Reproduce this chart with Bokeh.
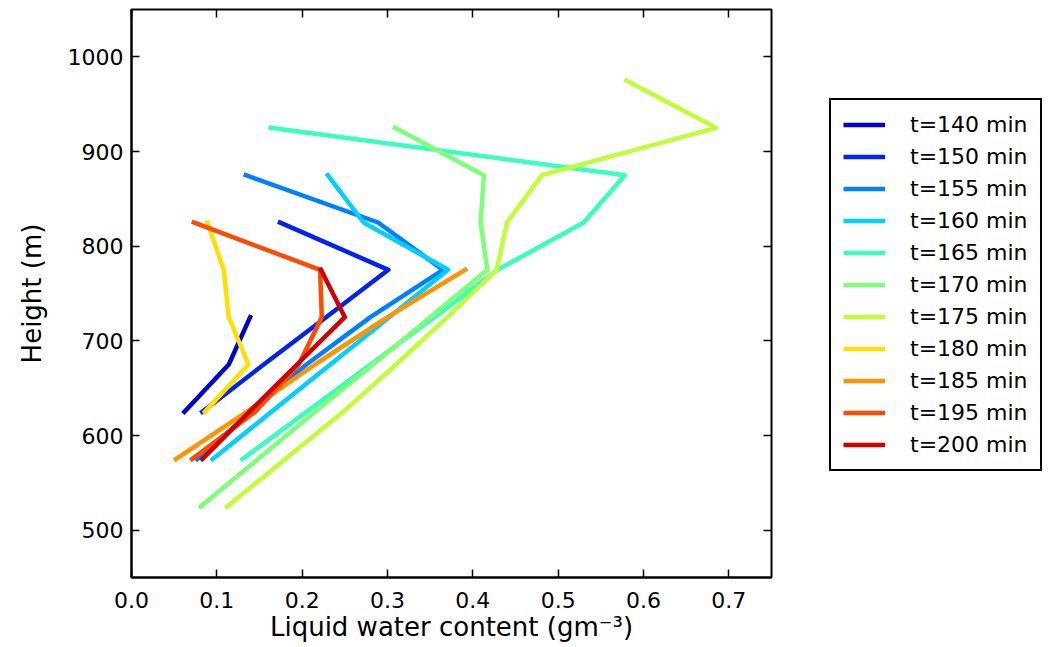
from bokeh.plotting import figure
from bokeh.layouts import row
from bokeh.models import (Legend, LegendItem, LinearAxis, FixedTicker,
                          PrintfTickFormatter, Range1d)
from bokeh.embed import file_html
from bokeh.resources import INLINE

# ---- data ----
labels = ["t=140 min", "t=150 min", "t=155 min", "t=160 min", "t=165 min",
          "t=170 min", "t=175 min", "t=180 min", "t=185 min", "t=195 min",
          "t=200 min"]
colors = ["#0000cd", "#0022f5", "#0080ff", "#00d0ff", "#3affbc",
          "#7dff7a", "#c0ff38", "#ffe000", "#ff9400", "#ff4a00",
          "#d00000"]

h_140 = [625, 675, 725]
lwc_140 = [0.062, 0.114, 0.139]

h_150 = [625, 675, 725, 775, 825]
lwc_150 = [0.083, 0.155, 0.228, 0.301, 0.174]

h_155 = [575, 625, 675, 725, 775, 825, 875]
lwc_155 = [0.077, 0.140, 0.205, 0.280, 0.365, 0.289, 0.134]

h_160 = [575, 625, 675, 725, 775, 825, 875]
lwc_160 = [0.095, 0.164, 0.233, 0.302, 0.371, 0.272, 0.230]

h_165 = [575, 625, 675, 725, 775, 825, 875, 925]
lwc_165 = [0.130, 0.205, 0.280, 0.355, 0.429, 0.530, 0.578, 0.163]

h_170 = [525, 575, 625, 675, 725, 775, 825, 875, 925]
lwc_170 = [0.081, 0.148, 0.215, 0.283, 0.350, 0.417, 0.409, 0.413, 0.309]

h_175 = [525, 575, 625, 675, 725, 775, 825, 875, 925, 975]
lwc_175 = [0.112, 0.180, 0.248, 0.310, 0.370, 0.428, 0.440, 0.481, 0.685, 0.580]

h_180 = [625, 675, 725, 775, 825]
lwc_180 = [0.086, 0.137, 0.114, 0.108, 0.089]

h_185 = [575, 625, 675, 725, 775]
lwc_185 = [0.052, 0.135, 0.215, 0.300, 0.391]

h_195 = [575, 625, 675, 725, 775, 825]
lwc_195 = [0.071, 0.145, 0.196, 0.223, 0.221, 0.073]

h_200 = [575, 625, 675, 725, 775]
lwc_200 = [0.083, 0.138, 0.194, 0.250, 0.222]

heights = [h_140, h_150, h_155, h_160, h_165, h_170, h_175, h_180, h_185, h_195, h_200]
lwcs = [lwc_140, lwc_150, lwc_155, lwc_160, lwc_165, lwc_170, lwc_175, lwc_180, lwc_185, lwc_195, lwc_200]

x_ticks = [0.0, 0.1, 0.2, 0.3, 0.4, 0.5, 0.6, 0.7]
y_ticks = [500, 600, 700, 800, 900, 1000]

FONT = "DejaVu Sans"
LW = 4.5

# ---- main plot ----
p = figure(width=781, height=647, output_backend="svg", toolbar_location=None,
           x_range=Range1d(0.0, 0.75), y_range=Range1d(450, 1050),
           min_border_left=131, min_border_right=10, min_border_top=9,
           min_border_bottom=70)
p.background_fill_color = "white"
p.border_fill_color = "white"
p.grid.visible = False
p.outline_line_color = "black"
p.outline_line_width = 2

for col, hs, xs in zip(colors, heights, lwcs):
    p.line(xs, hs, line_color=col, line_width=LW, line_join="round", line_cap="square")

for ax, ticks in ((p.xaxis[0], x_ticks), (p.yaxis[0], y_ticks)):
    ax.ticker = FixedTicker(ticks=ticks)
    ax.major_tick_in = 8
    ax.major_tick_out = 0
    ax.minor_tick_line_color = None
    ax.axis_line_color = "black"
    ax.axis_line_width = 2
    ax.major_tick_line_width = 1.5
    ax.major_label_text_font = FONT
    ax.major_label_text_font_size = "22px"
    ax.major_label_text_color = "black"
    ax.axis_label_text_font = FONT
    ax.axis_label_text_font_size = "26px"
    ax.axis_label_text_font_style = "normal"
    ax.axis_label_text_color = "black"

p.xaxis[0].formatter = PrintfTickFormatter(format="%.1f")
p.xaxis[0].axis_label = "Liquid water content (gm\u207b\u00b3)"
p.xaxis[0].major_label_standoff = 14
p.xaxis[0].axis_label_standoff = 1
p.yaxis[0].axis_label = "Height (m)"
p.yaxis[0].major_label_standoff = 8
p.yaxis[0].axis_label_standoff = 18

# top and right axes: ticks only
top = LinearAxis(ticker=FixedTicker(ticks=x_ticks),
                 major_label_overrides={t: "" for t in x_ticks})
right = LinearAxis(ticker=FixedTicker(ticks=y_ticks),
                   major_label_overrides={t: "" for t in y_ticks})
for ax in (top, right):
    ax.major_tick_in = 8
    ax.major_tick_out = 0
    ax.major_tick_line_width = 1.5
    ax.minor_tick_line_color = None
    ax.axis_line_color = None
    ax.major_label_standoff = 0
    ax.major_label_text_font_size = "1px"
p.add_layout(top, "above")
p.add_layout(right, "right")

# ---- legend panel: one-point line renderers (draw nothing, give legend swatches) ----
q = figure(width=276, height=647, output_backend="svg", toolbar_location=None,
           x_axis_type=None, y_axis_type=None,
           x_range=Range1d(0.0, 0.75), y_range=Range1d(450, 1050),
           min_border_left=0, min_border_right=0, min_border_top=0,
           min_border_bottom=0)
q.outline_line_color = None
q.background_fill_color = "white"
q.border_fill_color = "white"

items = []
for lab, col, hs, xs in zip(labels, colors, heights, lwcs):
    r = q.line(x=xs[:1], y=hs[:1], line_color=col, line_width=LW, line_cap="butt")
    items.append(LegendItem(label=lab, renderers=[r]))

legend = Legend(items=items, location=(48, 106))
legend.label_text_font = FONT
legend.label_text_font_size = "22px"
legend.label_text_color = "black"
legend.glyph_width = 42
legend.glyph_height = 25
legend.label_height = 25
legend.label_standoff = 25
legend.spacing = 7
legend.padding = 12
legend.margin = 0
legend.border_line_color = "black"
legend.border_line_alpha = 1.0
legend.border_line_width = 2
legend.background_fill_color = "white"
legend.background_fill_alpha = 1.0
q.add_layout(legend)

open("out.html", "w").write(file_html(row(p, q), INLINE))
